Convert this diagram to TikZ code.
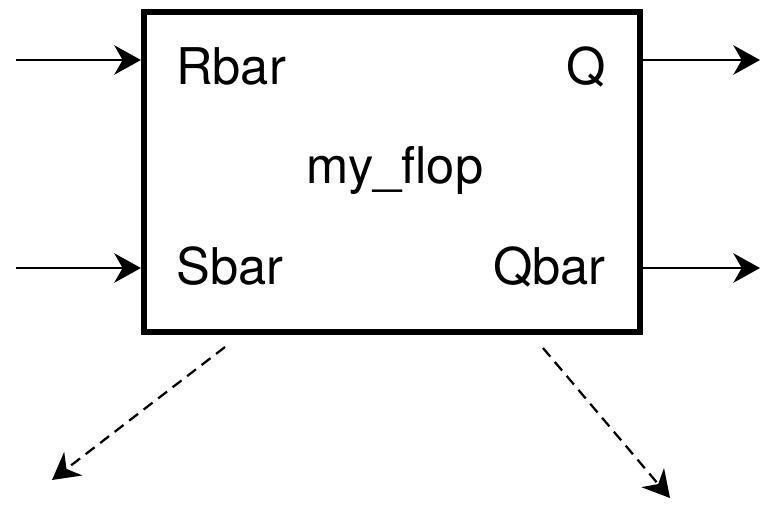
\documentclass[tikz,border=0pt]{standalone}
\usepackage{fontspec}
\setmainfont{TeX Gyre Heros}
\usetikzlibrary{arrows.meta}

\tikzset{
  port/.style={font=\fontsize{36}{40}\selectfont, inner sep=0pt},
  wire/.style={line width=1.6pt, -{Stealth[length=19pt, width=21pt, inset=6pt]}},
}

\begin{document}
\begin{tikzpicture}[x=0.025cm, y=-0.025cm]
      \useasboundingbox (0, 0) rectangle (760, 509);
      \node[draw, line width=4.3pt, minimum width=12.4cm, minimum height=8cm,
            inner sep=0pt] (flop) at (392, 172) {};
      \node[port] (name) at (395, 170) {my\_flop};
      \node[port, anchor=base west] (rbar) at (176, 84) {Rbar};
      \node[port, anchor=base west] (sbar) at (176, 284) {Sbar};
      \node[port, anchor=base east] (q) at (606, 84) {Q};
      \node[port, anchor=base east] (qbar) at (606, 284) {Qbar};
      \coordinate (rin) at (16, 60);
      \coordinate (sin) at (16, 268);
      \coordinate (qout) at (760, 60);
      \coordinate (qbarout) at (760, 268);
      \draw[wire] (rin) -- (rin -| flop.west);
      \draw[wire] (sin) -- (sin -| flop.west);
      \draw[wire] (qout -| flop.east) -- (qout);
      \draw[wire] (qbarout -| flop.east) -- (qbarout);
      \coordinate (a1) at (225, 347);
      \coordinate (a2) at (52, 480);
      \coordinate (b1) at (543, 348);
      \coordinate (b2) at (670, 498);
      \draw[wire, dash pattern=on 8pt off 5pt] (a1) -- (a2);
      \draw[wire, dash pattern=on 8pt off 5pt] (b1) -- (b2);
    \end{tikzpicture}
\end{document}
